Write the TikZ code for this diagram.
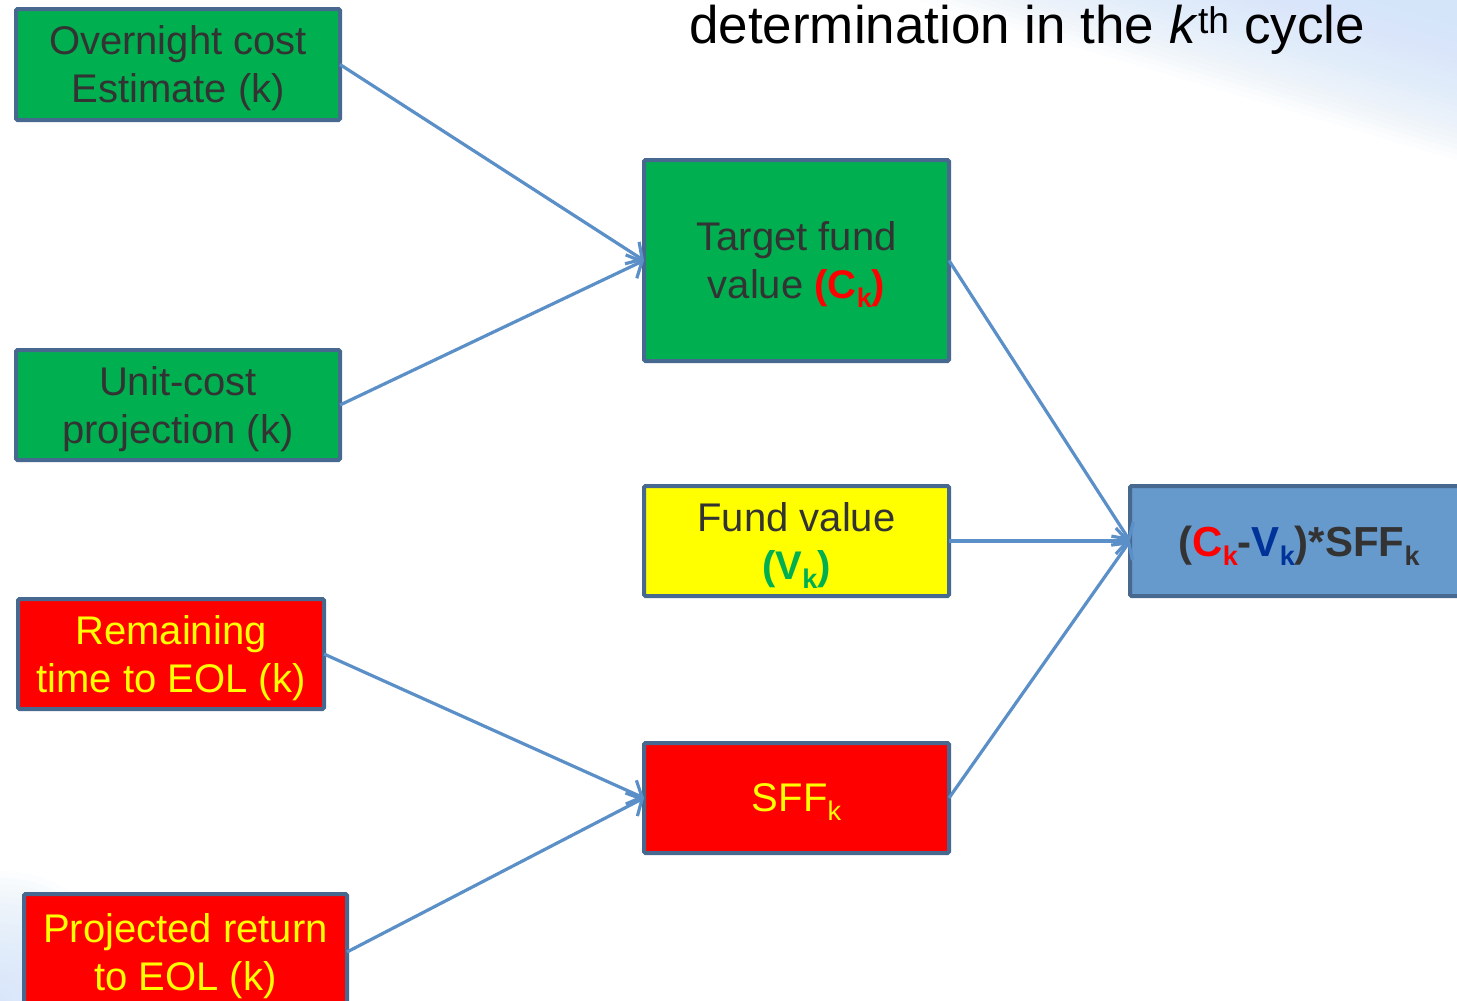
\documentclass[tikz,border=0pt]{standalone}
\usepackage{fontspec}
\setmainfont{Liberation Sans}
\usetikzlibrary{arrows.meta}
\definecolor{boxgreen}{HTML}{00B050}
\definecolor{boxred}{HTML}{FF0000}
\definecolor{boxyellow}{HTML}{FFFF00}
\definecolor{boxblue}{HTML}{6699CC}
\definecolor{edgecol}{HTML}{48698F}
\definecolor{arrowcol}{HTML}{5B8FC8}
\definecolor{darktext}{HTML}{333333}
\definecolor{vblue}{HTML}{003399}
\definecolor{bgblue}{HTML}{D4E5FA}
\newcommand\mysub[1]{\raisebox{-0.22em}{\fontsize{27}{27}\selectfont #1}}
\begin{document}
\begin{tikzpicture}[x=1pt,y=-1pt,
  box/.style={draw=edgecol, line width=4pt, rounded corners=1.5pt, inner sep=0pt, outer sep=0pt,
    align=center, text depth=-5pt, font=\fontsize{40}{48}\selectfont},
  greenbox/.style={box, fill=boxgreen, text=darktext},
  redbox/.style={box, fill=boxred, text=boxyellow},
  yellowbox/.style={box, fill=boxyellow, text=darktext},
  bluebox/.style={box, fill=boxblue, text=darktext, font=\fontsize{42}{50}\selectfont\bfseries},
  arr/.style={draw=arrowcol, line width=3.2pt, -{Straight Barb[length=12pt,width=26pt]}}]
\useasboundingbox (0,0) rectangle (1457,1001);
\begin{scope}
\clip (0,0) rectangle (1457,1001);
\fill[white] (0,0) rectangle (1457,1001);
\foreach \i in {1,...,30}{
  \fill[bgblue, opacity=0.065] (1457-540*\i/30,0) -- (1457,0) -- (1457,160*\i/30) -- cycle;
}
\foreach \i in {1,...,20}{
  \fill[bgblue, opacity=0.07] (0,1001) circle (130*\i/20);
}
\end{scope}

\node[anchor=base] (title) at (1027,43) {\fontsize{53}{60}\selectfont determination in the \textit{k}\textsuperscript{th} cycle};

\node[greenbox, minimum width=324pt, minimum height=111pt] (ov) at (178,64.5) {Overnight cost\\Estimate (k)};
\node[greenbox, minimum width=324pt, minimum height=110pt] (uc) at (178,405) {Unit-cost\\projection (k)};
\node[redbox, minimum width=306pt, minimum height=110pt] (rt) at (171,654) {Remaining\\time to EOL (k)};
\node[redbox, minimum width=323pt, minimum height=116pt] (pr) at (185.5,952) {Projected return\\to EOL (k)};

\node[greenbox, minimum width=305pt, minimum height=201pt] (tf) at (796.5,260.5) {Target fund\\value \textcolor{boxred}{\textbf{(C\mysub{k})}}};
\node[yellowbox, minimum width=305pt, minimum height=110pt] (fv) at (796.5,541) {Fund value\\\textcolor{boxgreen}{\textbf{(V\mysub{k})}}};
\node[redbox, minimum width=305pt, minimum height=110pt] (sf) at (796.5,798) {SFF\mysub{k}};

\node[bluebox, minimum width=338pt, minimum height=110pt] (res) at (1299,541) {(\textcolor{boxred}{C\mysub{k}}-\textcolor{vblue}{V\mysub{k}})*SFF\mysub{k}};

\draw[arr] (ov.east) -- (tf.west);
\draw[arr] (uc.east) -- (tf.west);
\draw[arr] (rt.east) -- (sf.west);
\draw[arr] (pr.east) -- (sf.west);
\draw[arr] (tf.east) -- (res.west);
\draw[arr] (fv.east) -- (res.west);
\draw[arr] (sf.east) -- (res.west);
\end{tikzpicture}
\end{document}
